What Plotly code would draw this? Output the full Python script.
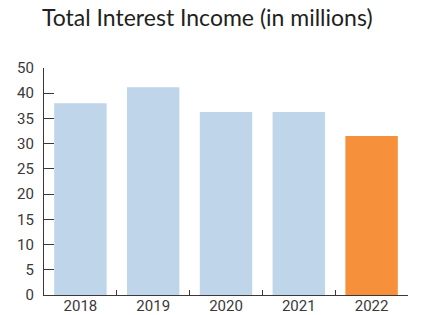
import plotly.graph_objects as go

years = ["2018", "2019", "2020", "2021", "2022"]
income = [38.0, 41.2, 36.3, 36.3, 31.5]
bar_colors = ["#bed5ea", "#bed5ea", "#bed5ea", "#bed5ea", "#f6903b"]
tick_vals = [0, 5, 10, 15, 20, 25, 30, 35, 40, 45]
tick_text = ["0", "5", "10", "15", "20", "25", "30", "35", "40", "50"]
title_text = "Total Interest Income (in millions)"

axis_font = dict(family="Roboto, sans-serif", size=15, color="#3b3839")

fig = go.Figure(go.Bar(x=years, y=income, marker=dict(color=bar_colors, line=dict(width=0)),
                       width=0.72))

fig.update_layout(
    width=431, height=315,
    margin=dict(l=36, r=31, t=60, b=28, pad=0),
    plot_bgcolor="white", paper_bgcolor="white",
    showlegend=False,
    title=dict(text=title_text, x=34 / 431, xanchor="left", xref="container",
               y=1, yanchor="top", yref="container", pad=dict(t=2, l=0, r=0, b=0),
               font=dict(family="Lato, Noto Sans, sans-serif", size=23, color="#231f20")),
    xaxis=dict(showline=True, linecolor="#3b3839", linewidth=1.2, automargin=False,
               ticks="inside", tickson="boundaries", ticklen=5, tickcolor="#3b3839", tickwidth=1.2,
               tickfont=axis_font, showgrid=False, zeroline=False, ticklabelstandoff=-3),
    yaxis=dict(range=[0, 45], showline=True, linecolor="#3b3839", linewidth=1.2, automargin=False,
               tickvals=tick_vals, ticktext=tick_text,
               ticks="inside", ticklen=10, tickcolor="#3b3839", tickwidth=1.2,
               tickfont=axis_font, showgrid=False, zeroline=False, ticklabelstandoff=6),
)

fig.write_html("out.html")
